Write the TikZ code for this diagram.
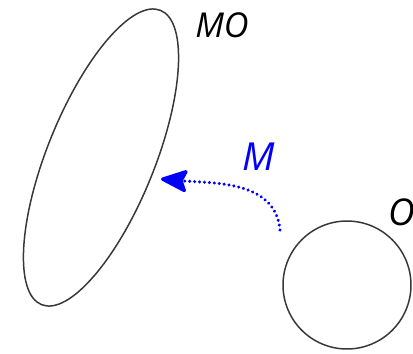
\documentclass[tikz,border=0pt]{standalone}
\usepackage{fontspec}
\setmainfont{Open Sans}
\usetikzlibrary{arrows.meta,shapes.geometric}

\begin{document}
\begin{tikzpicture}[
    x=0.02cm,y=0.02cm,
    shp/.style={draw=black!78,line width=0.85pt,inner sep=0pt,outer sep=0pt},
    lab/.style={font=\itshape,inner sep=0pt},
    maparrow/.style={blue,line width=1.9pt,line cap=round,dash pattern=on 0.01pt off 2.8pt,
                     -{Stealth[length=17pt,width=14pt,inset=3pt,round]}}]
\useasboundingbox (0,0) rectangle (413,353);
% ===== tilted ellipse (image set) =====
\node[shp,ellipse,minimum width=2.15cm,minimum height=6.35cm,rotate=-22] (mo) at (101,195.5) {};
\node[lab,font=\fontsize{19.5}{21}\selectfont\itshape] (molab) at (222,328) {MO};
% ===== circle (object) =====
\node[shp,circle,minimum size=2.56cm] (o) at (347,68) {};
\node[lab,font=\fontsize{21}{23}\selectfont\itshape,anchor=west] (olab) at (388,141) {O};
% ===== map arrow =====
\coordinate (src) at (280,123);
\coordinate (dst) at (161,174);
\draw[maparrow] (src) to[out=95,in=-5] (dst);
\node[lab,text=blue,font=\fontsize{22}{24}\selectfont\itshape] (mlab) at (259,196) {M};
\end{tikzpicture}
\end{document}
